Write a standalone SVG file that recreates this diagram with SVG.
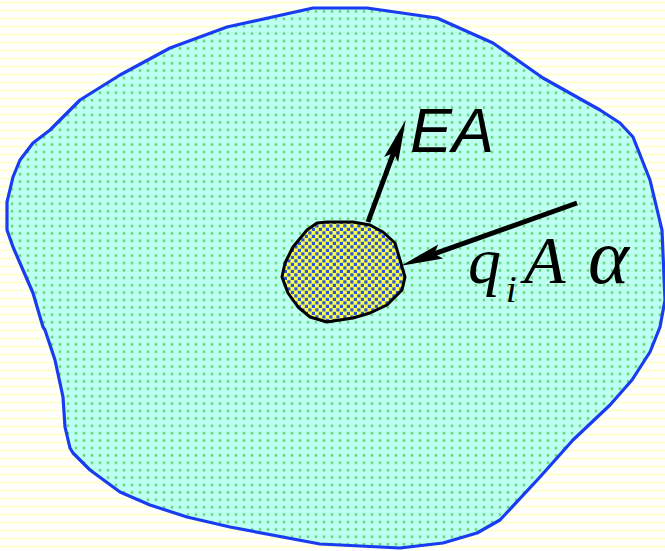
<svg xmlns="http://www.w3.org/2000/svg" width="665" height="551" viewBox="0 0 665 551">
  <defs>
    <pattern id="bgStripes" width="8" height="8" patternUnits="userSpaceOnUse">
      <rect width="8" height="8" fill="#FFFFFF"/>
      <rect y="1.5" width="8" height="2" fill="#FFFFCC"/>
    </pattern>
    <pattern id="greenDots" width="8" height="7.4" patternUnits="userSpaceOnUse">
      <rect width="8" height="7.4" fill="#BDFFF3"/>
      <rect x="2.5" y="2.5" width="3" height="3" fill="#9BEDB8"/>
      <rect x="3" y="3" width="2" height="2" fill="#55D96A"/>
    </pattern>
    <pattern id="blueDots" width="7" height="7" patternUnits="userSpaceOnUse">
      <rect width="7" height="7" fill="#FFFF4A"/>
      <rect x="0.3" y="0.3" width="3.2" height="3.2" fill="#2A55D8"/>
      <rect x="3.8" y="3.8" width="3.2" height="3.2" fill="#2A55D8"/>
    </pattern>
    <marker id="arrowHead" markerUnits="userSpaceOnUse" markerWidth="50" markerHeight="20" orient="auto" refX="0" refY="0" overflow="visible">
      <path d="M 32 0 L -10 -7.5 L -3 0 L -10 7.5 Z" fill="#000000"/>
    </marker>
    <style>
      .outline-big { fill: url(#greenDots); stroke: #1A3CF0; stroke-width: 3.2; stroke-linejoin: round; }
      .outline-small { fill: url(#blueDots); stroke: #000000; stroke-width: 3; stroke-linejoin: round; }
      .arrow { stroke: #000000; stroke-width: 5; fill: none; marker-end: url(#arrowHead); }
      .sans { font-family: "Liberation Sans", Arial, sans-serif; font-style: italic; fill: #000000; }
      .serif { font-family: "Liberation Serif", "Times New Roman", serif; font-style: italic; fill: #000000; }
    </style>
  </defs>

  <rect id="background" x="0" y="0" width="665" height="551" fill="url(#bgStripes)"/>

  <g id="body">
    <path class="outline-big" d="M 50 130 L 80 100 L 120 75 L 170 48 L 227 27 L 313 8 L 367 8 L 437 18 L 493 43 L 543 78 L 600 110 L 620 123 L 633 137 L 650 180 L 662 230 L 665 300 L 660 327 L 650 352 L 632 380 L 610 405 L 573 440 L 540 477 L 500 520 L 477 533 L 443 543 L 400 548 L 320 544 L 230 527 L 187 517 L 150 505 L 120 492 L 90 470 L 73 453 L 70 448 L 65 427 L 63 397 L 55 360 L 45 330 L 43 327 L 33 293 L 23 270 L 13 247 L 7 230 L 7 202 L 13 177 L 20 160 L 33 143 Z"/>
  </g>

  <g id="element">
    <path class="outline-small" d="M 327 222 L 353 222 L 370 225 L 383 232 L 395 243 L 400 260 L 402 267 L 405 277 L 402 290 L 387 305 L 370 313 L 353 318 L 327 322 L 310 317 L 298 307 L 288 293 L 282 277 L 285 263 L 293 247 L 307 230 L 317 223 Z"/>
  </g>

  <g id="connectors">
    <line id="arrow-EA" class="arrow" x1="368" y1="222" x2="394.6" y2="150.1"/>
    <line id="arrow-qiAalpha" class="arrow" x1="577" y1="203" x2="431.3" y2="254.9"/>
  </g>

  <g id="label-EA">
    <text class="sans" x="410" y="152" font-size="63">EA</text>
  </g>

  <g id="label-qiAalpha">
    <text class="serif" x="468" y="283" font-size="66">q</text>
    <text class="serif" x="506" y="302" font-size="38">i</text>
    <text class="serif" x="524" y="283" font-size="68">A</text>
    <text class="serif" x="588" y="283" font-size="78">α</text>
  </g>
</svg>
